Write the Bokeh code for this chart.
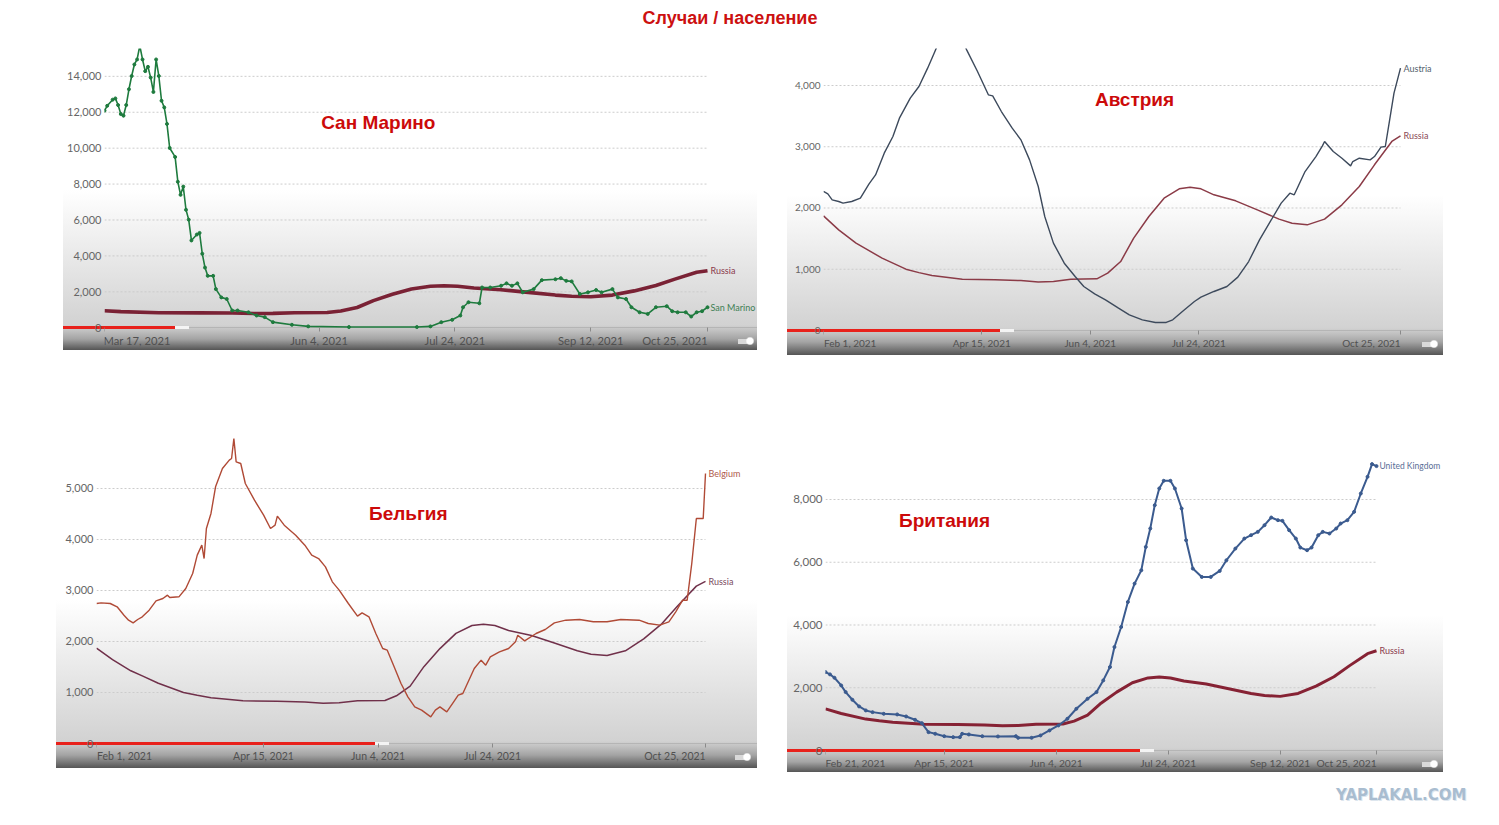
import pandas as pd
from bokeh.plotting import figure
from bokeh.models import Label, Div, Spacer, FixedTicker, NumeralTickFormatter, LinearAxis, Range1d
from bokeh.layouts import column, row
from bokeh.embed import file_html
from bokeh.resources import INLINE

TITLE = "Случаи / население"
WATERMARK = "YAPLAKAL.COM"

# ---- data (days are offsets from each series' start date) ----
RU_START = "2021-02-01"
RU_DAYS = [0, 7, 15, 20, 27, 38, 44, 50, 64, 79, 91, 99, 106, 114, 126, 131, 137, 143, 150, 157,
           164, 169, 174, 180, 190, 200, 210, 216, 223, 231, 239, 247, 254, 262, 266]
RU_VALUES = [1872, 1643, 1426, 1325, 1181, 1001, 945, 898, 838, 827, 816, 790, 800, 838, 844, 936,
             1126, 1507, 1861, 2160, 2313, 2340, 2313, 2215, 2117, 1970, 1818, 1752, 1725, 1818,
             2052, 2351, 2705, 3086, 3178]

SM_START = "2021-03-17"
SM_DAYS = [0, 1, 3, 4, 5, 6, 7, 8, 9, 10, 11, 12, 13, 14, 15, 16, 17, 18, 19, 20,
           21, 22, 23, 24, 26, 27, 28, 29, 30, 31, 32, 34, 35, 36, 37, 38, 40, 41, 43, 45,
           47, 49, 53, 56, 59, 62, 69, 75, 90, 115, 120, 124, 128, 131, 132, 134, 138, 139, 142, 146,
           148, 150, 152, 154, 158, 161, 166, 168, 170, 172, 175, 178, 181, 183, 187, 189, 192, 194, 197, 200,
           203, 207, 209, 211, 214, 216, 218, 220, 222]
SM_VALUES = [12090, 12360, 12700, 12770, 12400, 11900, 11810, 12400, 13280, 14020,
             14660, 14940, 15700, 14940, 14290, 14530, 13930, 13130, 14940, 14020,
             12640, 12270, 11350, 10010, 9510, 8130, 7400, 7860, 6570, 6020,
             4860, 5190, 5280, 4120, 3350, 2890, 2890, 2150, 1690, 1600,
             960, 960, 860, 680, 590, 310, 165, 75, 37, 37,
             75, 310, 440, 680, 1140, 1420, 1360, 2240, 2240, 2340,
             2470, 2340, 2470, 1970, 2150, 2650, 2700, 2760, 2610, 2580,
             1880, 1970, 2100, 1970, 2150, 1690, 1600, 1140, 860, 770,
             1140, 1200, 920, 860, 860, 625, 860, 920, 1140]

AT_START = "2021-02-01"
AT_DAYS = [0, 2, 4, 7, 9, 13, 17, 21, 24, 28, 32, 35, 40, 44, 48, 51, 53, 56, 59, 62,
           66, 71, 76, 78, 82, 87, 91, 95, 99, 102, 106, 111, 116, 120, 125, 130, 136, 141, 147, 153,
           158, 161, 166, 171, 174, 180, 186, 191, 196, 201, 206, 211, 215, 217, 222, 227, 230, 231, 235, 239,
           243, 244, 247, 252, 254, 257, 259, 261, 263, 266]
AT_VALUES = [2270, 2231, 2133, 2106, 2079, 2106, 2160, 2395, 2540, 2895,
             3167, 3467, 3793, 3984, 4283, 4528, 4691, 4900, 5000, 4900,
             4582, 4229, 3848, 3831, 3575, 3303, 3113, 2786, 2351, 1861,
             1426, 1099, 882, 718, 599, 500, 365, 256, 174, 131,
             131, 174, 327, 473, 544, 637, 718, 871, 1126, 1480,
             1780, 2079, 2242, 2215, 2595, 2840, 3015, 3086, 2922, 2813,
             2688, 2759, 2813, 2786, 2840, 2993, 3004, 3440, 3875, 4283]

BE_START = "2021-02-01"
BE_DAYS = [0, 2, 6, 9, 12, 14, 16, 18, 20, 23, 26, 29, 31, 32, 36, 39, 42, 44, 46, 47,
           48, 50, 52, 55, 58, 59, 60, 61, 63, 65, 69, 73, 76, 78, 79, 82, 87, 91, 94, 97,
           100, 103, 106, 110, 114, 116, 119, 122, 125, 127, 130, 133, 136, 139, 142, 146, 148, 150, 153, 156,
           158, 160, 162, 165, 168, 170, 172, 176, 180, 183, 184, 187, 192, 196, 200, 205, 211, 217, 223, 229,
           237, 241, 246, 250, 253, 256, 258, 260, 262, 265, 266]
BE_VALUES = [2745, 2758, 2745, 2680, 2516, 2418, 2366, 2431, 2484, 2614,
             2797, 2843, 2908, 2863, 2876, 3039, 3333, 3693, 3889, 3627,
             4216, 4510, 5033, 5392, 5556, 5588, 5980, 5523, 5490, 5098,
             4771, 4477, 4216, 4281, 4458, 4281, 4085, 3889, 3693, 3627,
             3464, 3170, 3007, 2745, 2497, 2562, 2484, 2157, 1863, 1830,
             1503, 1176, 915, 719, 654, 523, 654, 719, 621, 817,
             948, 980, 1176, 1471, 1634, 1536, 1699, 1797, 1863, 1993,
             2124, 2013, 2157, 2235, 2366, 2418, 2431, 2386, 2386, 2431,
             2418, 2353, 2320, 2386, 2582, 2810, 2810, 3529, 4412, 4412,
             5294]

UK_START = "2021-02-21"
UK_DAYS = [0, 2, 4, 7, 9, 12, 15, 18, 21, 26, 32, 36, 40, 43, 46, 49, 53, 57, 60, 61,
           64, 70, 77, 85, 86, 92, 96, 100, 104, 108, 112, 117, 121, 124, 127, 129, 132, 135, 138, 141,
           143, 145, 147, 149, 151, 154, 156, 159, 161, 164, 168, 172, 176, 179, 183, 187, 190, 193, 196, 199,
           202, 204, 207, 210, 212, 215, 217, 220, 222, 225, 228, 230, 233, 236, 239, 242, 244, 246]
UK_VALUES = [2500, 2426, 2319, 2074, 1862, 1617, 1404, 1277, 1223, 1170,
             1149, 1085, 979, 872, 585, 532, 457, 426, 426, 532,
             511, 457, 447, 457, 404, 404, 479, 638, 798, 1011,
             1330, 1649, 1862, 2234, 2660, 3298, 3936, 4734, 5319, 5745,
             6489, 7074, 7819, 8351, 8596, 8596, 8351, 7713, 6702, 5798,
             5532, 5532, 5723, 6064, 6436, 6755, 6862, 6968, 7181, 7425,
             7340, 7319, 7021, 6755, 6468, 6383, 6468, 6862, 6968, 6915,
             7074, 7234, 7340, 7606, 8191, 8723, 9128, 9064]

SM_TICKS = ["2021-03-17", "2021-06-04", "2021-07-24", "2021-09-12", "2021-10-25"]
AT_TICKS = ["2021-02-01", "2021-04-15", "2021-06-04", "2021-07-24", "2021-10-25"]
BE_TICKS = ["2021-02-01", "2021-04-15", "2021-06-04", "2021-07-24", "2021-10-25"]
UK_TICKS = ["2021-02-21", "2021-04-15", "2021-06-04", "2021-07-24", "2021-09-12", "2021-10-25"]
END_DATE = "2021-10-25"

BASE = pd.Timestamp("2021-01-01")


def doy(d):
    return (pd.Timestamp(d) - BASE).days


def date_label(d):
    t = pd.Timestamp(d)
    return f"{t.strftime('%b')} {t.day}, {t.year}"


def series_x(start, days):
    s = doy(start)
    return [s + d for d in days]


def panel_css(h, zero, white_end, red_w, tog_x):
    layers = [
        f"radial-gradient(circle, #ffffff 0px, #ffffff 3px, rgba(255,255,255,0) 4.5px) {tog_x}px {zero + 9}px / 10px 10px no-repeat",
        f"linear-gradient(#d9d9d9,#d9d9d9) {tog_x - 7}px {zero + 12}px / 12px 5px no-repeat",
        f"linear-gradient(#e8211b,#e8211b) 0px {zero - 1}px / {red_w}px 3px no-repeat",
        f"linear-gradient(#f4f4f4,#f4f4f4) {red_w}px {zero - 1}px / 14px 3px no-repeat",
        f"linear-gradient(#b5b5b5,#b5b5b5) 0px {zero}px / 100% 1px no-repeat",
        (f"linear-gradient(to bottom, #ffffff 0px, #ffffff {white_end}px, #d2d2d2 {zero - 2}px, "
         f"#c0c0c0 {zero + 4}px, #a4a4a4 {zero + 12}px, #555555 {h}px)"),
    ]
    return ", ".join(layers)


def style_xaxis(ax, fs):
    ax.axis_line_color = None
    ax.minor_tick_line_color = None
    ax.major_tick_out = 4
    ax.major_tick_in = 0
    ax.major_label_text_font = "Lato"
    ax.major_label_text_font_size = fs
    ax.major_label_text_color = "#505050"
    ax.major_label_standoff = 2


def make_panel(cfg):
    x0 = doy(cfg["start"])
    x1 = doy(END_DATE)
    fw = cfg["w"] - cfg["bl"] - cfg["br"]
    ppd = fw / (x1 - x0)                      # pixels per day of the frame
    xe = x1 + cfg["br"] / ppd                 # room on the right for the end labels
    ppv = (cfg["h"] - cfg["bt"] - cfg["bb"]) / cfg["ymax"]
    ys = -cfg["bb"] / ppv                     # frame reaches down over the date strip
    p = figure(width=cfg["w"], height=cfg["h"], x_range=(x0, xe), y_range=(ys, cfg["ymax"]),
               output_backend="svg", toolbar_location=None, tools="", x_axis_location=None,
               min_border_left=cfg["bl"], min_border_right=0,
               min_border_top=cfg["bt"], min_border_bottom=0)
    p.background_fill_color = None
    p.border_fill_color = None
    p.outline_line_color = None
    p.styles = {"background": panel_css(cfg["h"], cfg["h"] - cfg["bb"], cfg["white"], cfg["red"], cfg["tog"])}

    p.xgrid.visible = False
    p.ygrid.visible = False
    gt = [t for t in cfg["yticks"] if t > 0]
    p.multi_line(xs=[[x0, x1] for _ in gt], ys=[[t, t] for t in gt],
                 line_color="#cccccc", line_dash="2 2", line_width=1)

    p.yaxis.ticker = FixedTicker(ticks=cfg["yticks"])
    p.yaxis.formatter = NumeralTickFormatter(format="0,0")
    p.yaxis.axis_line_color = None
    p.yaxis.major_tick_line_color = None
    p.yaxis.minor_tick_line_color = None
    p.yaxis.major_tick_out = 0
    p.yaxis.major_tick_in = 0
    p.yaxis.major_label_text_font = "Lato"
    p.yaxis.major_label_text_font_size = cfg["yfs"]
    p.yaxis.major_label_text_color = "#666666"
    p.yaxis.major_label_standoff = 3

    ticks = [doy(d) for d in cfg["ticks"]]
    labels = {doy(d): date_label(d) for d in cfg["ticks"]}
    overrides = dict(labels)
    overrides[ticks[0]] = ""
    overrides[ticks[-1]] = ""
    xa = LinearAxis(ticker=FixedTicker(ticks=ticks), major_label_overrides=overrides,
                    bounds=(x0, x1), fixed_location=0)
    style_xaxis(xa, cfg["xfs"])
    xa.major_tick_line_color = "#8a8a8a"
    p.add_layout(xa, "below")

    # first label left-aligned at its tick, last label right-aligned at its tick (as in the source)
    fsz = float(cfg["xfs"].replace("px", ""))
    for name, t, sign in (("first", ticks[0], 1), ("last", ticks[-1], -1)):
        half = 0.485 * fsz * len(labels[t]) / 2.0
        sd = sign * half / ppd
        p.extra_x_ranges[name] = Range1d(x0 - sd, xe - sd)
        ax = LinearAxis(x_range_name=name, ticker=FixedTicker(ticks=[t]),
                        major_label_overrides={t: labels[t]}, fixed_location=0)
        style_xaxis(ax, cfg["xfs"])
        ax.major_tick_line_color = None
        p.add_layout(ax, "below")

    # Russia (sliced to the panel's start date)
    rx_all = series_x(RU_START, RU_DAYS)
    rx = [x for x in rx_all if x >= x0]
    ry = [v for x, v in zip(rx_all, RU_VALUES) if x >= x0]
    p.line(rx, ry, line_color=cfg["ru_color"], line_width=cfg["ru_w"])

    cx = series_x(cfg["start"], cfg["days"])
    cy = cfg["values"]
    p.line(cx, cy, line_color=cfg["color"], line_width=cfg["cw"])
    if cfg["dots"]:
        p.scatter(cx, cy, size=3, color=cfg["color"])

    p.add_layout(Label(x=rx[-1], y=ry[-1], text="Russia", x_offset=3, text_baseline="middle",
                       text_font="Lato", text_font_size="9px", text_color=cfg["ru_label"]))
    p.add_layout(Label(x=cx[-1], y=cy[-1], text=cfg["name"], x_offset=3, text_baseline="middle",
                       text_font="Lato", text_font_size=cfg["name_fs"], text_color=cfg["label_color"]))

    fx, fy = cfg["title_pos"]
    p.add_layout(Label(x=x0 + fx * (x1 - x0), y=fy * cfg["ymax"], text=cfg["title"],
                       text_align="center", text_baseline="middle",
                       text_font="Liberation Sans", text_font_style="bold",
                       text_font_size="19px", text_color="#cc0a0a"))
    return p


p1 = make_panel(dict(start=SM_START, days=SM_DAYS, values=SM_VALUES, name="San Marino", ticks=SM_TICKS,
                     w=694, h=310, bl=41, br=50, bt=5, bb=23, ymax=15550,
                     yticks=[0, 2000, 4000, 6000, 8000, 10000, 12000, 14000], yfs="11px", xfs="11.2px",
                     white=150, red=112, tog=682,
                     color="#1e7b3e", cw=1.6, dots=True, label_color="#3f7f55", name_fs="9px",
                     ru_color="#7a2235", ru_w=3.6, ru_label="#8a3a4c",
                     title="Сан Марино", title_pos=(0.454, 0.734)))
p2 = make_panel(dict(start=AT_START, days=AT_DAYS, values=AT_VALUES, name="Austria", ticks=AT_TICKS,
                     w=656, h=315, bl=36, br=43, bt=8, bb=25, ymax=4604,
                     yticks=[0, 1000, 2000, 3000, 4000], yfs="10px", xfs="10px",
                     white=155, red=213, tog=642,
                     color="#3d4a5c", cw=1.4, dots=False, label_color="#555f6e", name_fs="9px",
                     ru_color="#8b3b47", ru_w=1.5, ru_label="#8b4a55",
                     title="Австрия", title_pos=(0.539, 0.819)))
p3 = make_panel(dict(start=BE_START, days=BE_DAYS, values=BE_VALUES, name="Belgium", ticks=BE_TICKS,
                     w=701, h=338, bl=40, br=52, bt=2, bb=25, ymax=6098,
                     yticks=[0, 1000, 2000, 3000, 4000, 5000], yfs="11px", xfs="10.5px",
                     white=170, red=319, tog=686,
                     color="#b04a36", cw=1.4, dots=False, label_color="#b0584a", name_fs="9px",
                     ru_color="#70304a", ru_w=1.5, ru_label="#7a4a5e",
                     title="Бельгия", title_pos=(0.512, 0.740)))
p4 = make_panel(dict(start=UK_START, days=UK_DAYS, values=UK_VALUES, name="United Kingdom", ticks=UK_TICKS,
                     w=656, h=320, bl=38, br=67, bt=3, bb=22, ymax=9402,
                     yticks=[0, 2000, 4000, 6000, 8000], yfs="11.5px", xfs="10.3px",
                     white=163, red=353, tog=642,
                     color="#3b5b8f", cw=2.0, dots=True, label_color="#5a6e96", name_fs="8.5px",
                     ru_color="#862234", ru_w=3.0, ru_label="#8a3a4c",
                     title="Британия", title_pos=(0.216, 0.780)))

Z = (0, 0, 0, 0)
title_div = Div(text=(f'<div style="width:1444px;text-align:center;font-family:\'Liberation Sans\',Arial,sans-serif;'
                      f'font-weight:bold;font-size:18px;line-height:20px;color:#cc1010;">{TITLE}</div>'),
                width=1444, height=32, margin=Z)
wm_div = Div(text=(f'<div style="font-family:\'DejaVu Sans\',sans-serif;font-weight:bold;font-size:15px;'
                   f'line-height:16px;padding-top:15px;color:#a9bdd0;text-shadow:1px 1px 0 #dde6ee;">{WATERMARK}</div>'),
             width=160, height=32, margin=Z)

top_pad = Spacer(width=10, height=8, margin=Z)
title_row = row(Spacer(width=8, height=10, margin=Z), title_div)
row1 = row(Spacer(width=63, height=10, margin=Z), p1,
           Spacer(width=30, height=10, margin=Z), p2)
row2 = row(Spacer(width=56, height=10, margin=Z), p3,
           Spacer(width=30, height=10, margin=Z),
           column(Spacer(width=10, height=22, margin=Z), p4))
row3 = row(Spacer(width=1336, height=10, margin=Z), wm_div)

layout = column(top_pad, title_row, row1, Spacer(width=10, height=75, margin=Z), row2, row3)

open("out.html", "w").write(file_html(layout, INLINE))
